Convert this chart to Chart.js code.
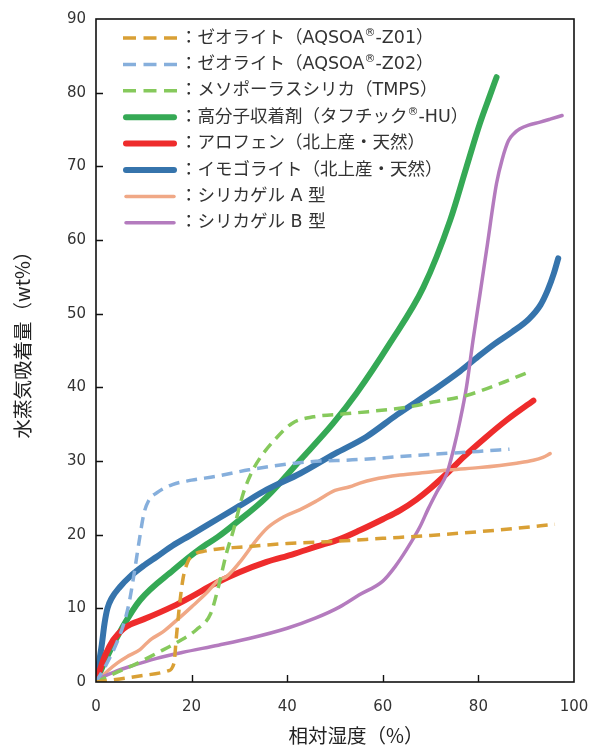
<!DOCTYPE html>
<html><head><meta charset="utf-8">
<script src="https://cdn.jsdelivr.net/npm/chart.js@4.4.1/dist/chart.umd.min.js"></script>
<style>html,body{margin:0;padding:0;background:#fff}#wrap{width:593px;height:748px;position:relative}canvas{display:block}</style>
</head><body><div id="wrap"><canvas id="c" width="593" height="748"></canvas></div>
<script>
// ---- tick labels ----
const xTickValues = [0, 20, 40, 60, 80, 100];
const yTickValues = [0, 10, 20, 30, 40, 50, 60, 70, 80, 90];
const xTitle = "相対湿度（%）";
const yTitle = "水蒸気吸着量（wt%）";

// ---- series labels ----
const seriesLabels = [
  "：ゼオライト（AQSOA®-Z01）",
  "：ゼオライト（AQSOA®-Z02）",
  "：メソポーラスシリカ（TMPS）",
  "：高分子収着剤（タフチック®-HU）",
  "：アロフェン（北上産・天然）",
  "：イモゴライト（北上産・天然）",
  "：シリカゲル A 型",
  "：シリカゲル B 型"
];

// ---- series values (relative humidity %, adsorption wt%) ----
const z01X = [0, 5, 10, 15, 16.3, 16.8, 17.4, 18.2, 19.2, 20.5, 23, 26, 30, 40, 50, 60, 70, 80, 87, 96];
const z01Y = [0, 0.4, 0.9, 1.5, 2.5, 6, 10, 14, 16.3, 17.3, 17.8, 18.1, 18.3, 18.8, 19.1, 19.5, 19.9, 20.4, 20.8, 21.4];

const z02X = [0, 2, 4, 6, 7, 8, 9, 10, 11, 13, 16, 20, 25, 32, 43, 55, 70, 80, 86.5];
const z02Y = [0, 2.2, 4.8, 8.3, 11, 14.8, 19, 22.8, 24.6, 25.8, 26.8, 27.4, 27.9, 28.8, 29.8, 30.2, 30.9, 31.3, 31.6];

const tmpsX = [0, 4, 8.5, 13, 17, 21, 24, 25.6, 27.3, 28.7, 30.8, 32.6, 34.3, 37, 41, 45.5, 52, 57, 65, 70.5, 77.5, 84.5, 91];
const tmpsY = [0, 1.2, 2.5, 4, 5.4, 7.1, 9.3, 12.9, 17.5, 20.5, 25.6, 28.5, 30.4, 32.6, 35.1, 36, 36.4, 36.7, 37.3, 38, 38.9, 40.5, 42.2];

const huX = [0, 2, 5.6, 9.2, 16.2, 21.8, 25.5, 28.7, 35.7, 42.7, 49.6, 54.5, 61.5, 68.5, 74.1, 77.5, 80.3, 82.4, 83.8];
const huY = [0, 3, 7.5, 11.1, 15.2, 18.1, 19.7, 21.3, 25.1, 30.1, 35.1, 39.2, 46, 53.6, 62.7, 69.9, 75.8, 79.6, 82.1];

const alloX = [0, 1, 1.9, 3.6, 5.7, 7.5, 9.9, 16.2, 20, 25, 30, 35.7, 41, 46.2, 51, 55.2, 60, 63.6, 67.1, 70, 73.4, 77, 81.7, 86, 91.5];
const alloY = [0, 2, 3.6, 5.7, 7.2, 7.9, 8.5, 10.3, 11.6, 13.4, 14.9, 16.3, 17.3, 18.4, 19.4, 20.6, 22.1, 23.3, 24.8, 26.3, 28.3, 30.6, 33.3, 35.6, 38.2];

const imoX = [0, 0.6, 1.2, 1.8, 2.4, 3.3, 5, 7.1, 10, 12.7, 16, 19.7, 25.6, 30, 35.7, 42.7, 50, 56.6, 63, 70.6, 76.2, 80, 83.4, 87, 90.6, 93, 94.5, 95.8, 96.7];
const imoY = [0, 2.5, 5, 8, 10, 11.4, 12.9, 14.3, 15.8, 17, 18.5, 19.9, 22.2, 23.9, 26.1, 28.3, 31, 33.3, 36.3, 39.6, 42.2, 44.2, 45.9, 47.5, 49.3, 51.2, 53.2, 55.5, 57.5];

const sgaX = [0, 2.6, 4.5, 6.4, 9.2, 11.3, 14, 16.9, 20, 23, 25.6, 27.3, 30, 33.6, 36, 39.2, 42.7, 46.2, 50, 53.1, 55.2, 58, 63.6, 70, 74.1, 80, 84.5, 88, 91.5, 93.5, 95];
const sgaY = [0, 1.6, 2.6, 3.4, 4.4, 5.7, 6.8, 8.4, 10.2, 12, 13.8, 14.3, 16.2, 19.3, 21, 22.4, 23.4, 24.6, 26, 26.5, 27, 27.5, 28.1, 28.5, 28.8, 29.1, 29.4, 29.7, 30.1, 30.5, 31];

const sgbX = [0, 1.5, 4, 7.1, 12.7, 18, 25.6, 32, 40, 46, 51, 55, 60, 62.5, 65, 67.8, 69.5, 71.3, 73.4, 74.8, 76.2, 77.5, 78.9, 80.3, 81.7, 83.8, 85, 86.3, 87.5, 88.7, 90.5, 92.9, 95, 97.5];
const sgbY = [0, 0.7, 1.4, 2.1, 3.2, 4, 5, 5.9, 7.3, 8.7, 10.2, 11.8, 13.7, 15.6, 18, 21.1, 23.5, 25.8, 28.3, 31.6, 35.6, 40, 46.5, 52.5, 58.6, 67.7, 71, 73.5, 74.5, 75.1, 75.6, 76, 76.4, 76.9];

const pts = (xs, ys) => xs.map((x, i) => ({x: x, y: ys[i]}));

const DASH = [11, 7];
const styles = [
  {c: '#D9A035', w: 3.5, dash: DASH, order: 1},
  {c: '#86AFDC', w: 3.5, dash: DASH, order: 2},
  {c: '#86C95C', w: 3.5, dash: DASH, order: 3},
  {c: '#35A955', w: 6, dash: [], order: 8},
  {c: '#EE2C2C', w: 6, dash: [], order: 6},
  {c: '#3674AC', w: 6, dash: [], order: 7},
  {c: '#F0A886', w: 3.5, dash: [], order: 5},
  {c: '#B47BBE', w: 3.5, dash: [], order: 4}
];
const seriesData = [pts(z01X, z01Y), pts(z02X, z02Y), pts(tmpsX, tmpsY), pts(huX, huY),
                    pts(alloX, alloY), pts(imoX, imoY), pts(sgaX, sgaY), pts(sgbX, sgbY)];

const datasets = seriesData.map((d, i) => ({
  label: seriesLabels[i],
  data: d,
  borderColor: styles[i].c,
  borderWidth: styles[i].w,
  borderDash: styles[i].dash,
  borderCapStyle: styles[i].dash.length ? 'butt' : 'round',
  borderJoinStyle: 'round',
  order: styles[i].order,
  pointRadius: 0,
  fill: false,
  cubicInterpolationMode: 'monotone'
}));

const TEXT = '#333';
const LFONT = '"DejaVu Sans", "Noto Sans CJK JP"';
const frameTicks = {
  id: 'frameTicks',
  afterDraw(chart) {
    const {ctx, chartArea: a, scales} = chart;
    ctx.save();
    ctx.strokeStyle = '#111';
    ctx.lineWidth = 1.6;
    ctx.strokeRect(a.left, a.top, a.right - a.left, a.bottom - a.top);
    ctx.lineWidth = 1.4;
    ctx.beginPath();
    xTickValues.slice(1, -1).forEach(v => {
      const px = Math.round(scales.x.getPixelForValue(v)) + 0.5;
      ctx.moveTo(px, a.bottom); ctx.lineTo(px, a.bottom - 7);
    });
    yTickValues.slice(1, -1).forEach(v => {
      const py = Math.round(scales.y.getPixelForValue(v)) + 0.5;
      ctx.moveTo(a.left, py); ctx.lineTo(a.left + 7, py);
    });
    ctx.stroke();
    // axis titles
    ctx.fillStyle = '#222';
    ctx.font = '19.5px "Noto Sans CJK JP"';
    ctx.textAlign = 'center';
    ctx.textBaseline = 'middle';
    ctx.fillText(xTitle, 356, 736);
    ctx.translate(23, 340);
    ctx.rotate(-Math.PI / 2);
    ctx.fillText(yTitle, 0, 0);
    ctx.restore();
  }
};

const legendPlugin = {
  id: 'innerLegend',
  afterDraw(chart) {
    const ctx = chart.ctx;
    ctx.save();
    chart.data.datasets.forEach((ds, i) => {
      const y = 38 + i * 26.4;
      ctx.strokeStyle = ds.borderColor;
      ctx.lineWidth = ds.borderWidth;
      ctx.lineCap = ds.borderDash.length ? 'butt' : 'round';
      ctx.setLineDash(ds.borderDash.length ? [13, 7.5] : []);
      ctx.beginPath();
      const x0 = ds.borderDash.length ? 123 : 126;
      const x1 = ds.borderDash.length ? 177 : 174;
      ctx.moveTo(x0, y); ctx.lineTo(x1, y);
      ctx.stroke();
      ctx.setLineDash([]);
      ctx.fillStyle = TEXT;
      ctx.textBaseline = 'middle';
      ctx.textAlign = 'left';
      const parts = ds.label.split('®');
      let x = 180;
      ctx.font = '17.5px ' + LFONT;
      ctx.fillText(parts[0], x, y);
      x += ctx.measureText(parts[0]).width;
      if (parts.length > 1) {
        ctx.font = '11px ' + LFONT;
        ctx.fillText('®', x, y - 5);
        x += ctx.measureText('®').width;
        ctx.font = '17.5px ' + LFONT;
        ctx.fillText(parts[1], x, y);
      }
    });
    ctx.restore();
  }
};

new Chart(document.getElementById('c'), {
  type: 'line',
  data: {datasets: datasets},
  options: {
    responsive: false,
    devicePixelRatio: 1,
    animation: false,
    layout: {padding: {top: 19, right: 19, left: 0, bottom: 0}},
    plugins: {legend: {display: false}, tooltip: {enabled: false}},
    scales: {
      x: {
        type: 'linear', min: 0, max: 100,
        afterBuildTicks: s => { s.ticks = xTickValues.map(v => ({value: v})); },
        afterFit: s => { s.height = 66; s.paddingLeft = 0; s.paddingRight = 0; },
        grid: {display: false, drawTicks: false},
        border: {display: false},
        ticks: {color: TEXT, font: {family: 'DejaVu Sans', size: 15}, padding: 16, maxRotation: 0}
      },
      y: {
        type: 'linear', min: 0, max: 90,
        afterBuildTicks: s => { s.ticks = yTickValues.map(v => ({value: v})); },
        afterFit: s => { s.width = 96; s.paddingTop = 0; s.paddingBottom = 0; },
        grid: {display: false, drawTicks: false},
        border: {display: false},
        ticks: {color: TEXT, font: {family: 'DejaVu Sans', size: 15}, padding: 10}
      }
    }
  },
  plugins: [frameTicks, legendPlugin]
});
</script>
</body></html>
